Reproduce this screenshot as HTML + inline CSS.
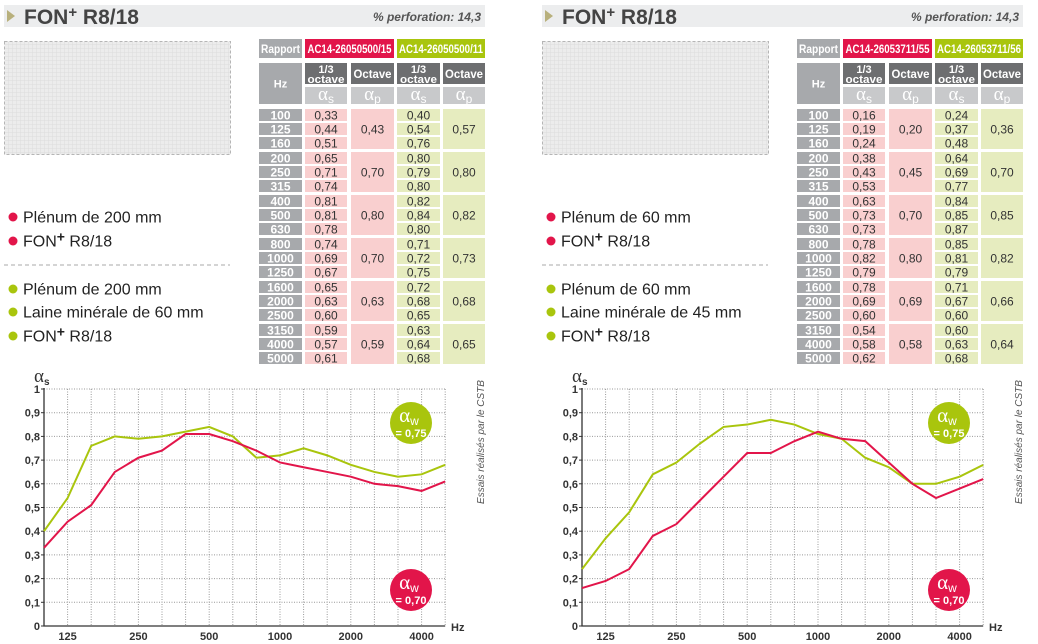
<!DOCTYPE html>
<html><head><meta charset="utf-8">
<style>
html,body{margin:0;padding:0;background:#fff;width:1038px;height:644px;overflow:hidden}
svg{position:absolute;top:0;font-family:"Liberation Sans",sans-serif}
</style></head>
<body>
<svg id="root" width="1038" height="644">
<defs>
<pattern id="hatch" width="4" height="4" patternUnits="userSpaceOnUse">
<rect width="4" height="4" fill="#ececec"/><path d="M0 0H4M0 0V4" stroke="#dcdcdc" stroke-width="1"/>
</pattern>
</defs>
</svg>
<script>
// ---- data ----
const bands = ["100","125","160","200","250","315","400","500","630","800","1000","1250","1600","2000","2500","3150","4000","5000"];
const xTickLabels = ["125","250","500","1000","2000","4000"];
const xTickIdx = [1,4,7,10,13,16];
const yTicks = [0,0.1,0.2,0.3,0.4,0.5,0.6,0.7,0.8,0.9,1];
const yTickLabels = ["0","0,1","0,2","0,3","0,4","0,5","0,6","0,7","0,8","0,9","1"];

const leftRed = [0.33,0.44,0.51,0.65,0.71,0.74,0.81,0.81,0.78,0.74,0.69,0.67,0.65,0.63,0.60,0.59,0.57,0.61];
const leftGreen = [0.40,0.54,0.76,0.80,0.79,0.80,0.82,0.84,0.80,0.71,0.72,0.75,0.72,0.68,0.65,0.63,0.64,0.68];
const leftRedOct = [0.43,0.70,0.80,0.70,0.63,0.59];
const leftGreenOct = [0.57,0.80,0.82,0.73,0.68,0.65];

const rightRed = [0.16,0.19,0.24,0.38,0.43,0.53,0.63,0.73,0.73,0.78,0.82,0.79,0.78,0.69,0.60,0.54,0.58,0.62];
const rightGreen = [0.24,0.37,0.48,0.64,0.69,0.77,0.84,0.85,0.87,0.85,0.81,0.79,0.71,0.67,0.60,0.60,0.63,0.68];
const rightRedOct = [0.20,0.45,0.70,0.80,0.69,0.58];
const rightGreenOct = [0.36,0.70,0.85,0.82,0.66,0.64];

const RED="#e2154a", GREEN="#a9c50d";
const NS="http://www.w3.org/2000/svg";
const root=document.getElementById('root');
function mk(tag,attrs,parent,text){const e=document.createElementNS(NS,tag);for(const k in attrs)e.setAttribute(k,attrs[k]);if(text!==undefined)e.textContent=text;(parent||root).appendChild(e);return e;}
function fmt(v){return v.toFixed(2).replace('.',',');}

// axis functions
const X0=44, XSTEP=23.6, Y0=626, YH=237;
function xs(i){return X0+i*XSTEP;}
function ys(v){return Y0-v*YH;}

function panel(ox, p){
  const g=mk('g',{transform:'translate('+ox+',0)'});
  
  
  // title bar
  let e=mk('rect',{x:4,y:5,width:481,height:22,fill:'#ecedee'},g);
  
  e=mk('polygon',{points:'7,10 15,16 7,22',fill:'#b8b07c'},g);
  
  e=mk('text',{x:24,y:24,'font-size':21,'font-weight':'bold',fill:'#444'},g);
  e.innerHTML='FON<tspan dy="-7" font-size="15">+</tspan><tspan dy="7"> R8/18</tspan>';
  
  e=mk('text',{x:481,y:21,'font-size':12,'font-weight':'bold','font-style':'italic',fill:'#555','text-anchor':'end'},g,'% perforation: 14,3');
  
  // image placeholder
  e=mk('rect',{x:4.5,y:41.5,width:226,height:113,fill:'url(#hatch)',stroke:'#b5b5b5','stroke-dasharray':'3,2'},g);
  
  // legend
  const leg=[[217,RED,p.l1],[241,RED,'FON+'],[289,GREEN,p.l1],[312,GREEN,p.l2],[336,GREEN,'FON+']];
  leg.forEach(function(l){
    const c=mk('circle',{cx:13,cy:l[0],r:4.5,fill:l[1]},g);
    
    const t=mk('text',{x:23,y:l[0]+5.5,'font-size':16,fill:'#222'},g);
    if(l[2]==='FON+') t.innerHTML='FON<tspan dy="-5" font-size="14" font-weight="bold">+</tspan><tspan dy="5"> R8/18</tspan>';
    else t.textContent=l[2];
    
  });
  e=mk('line',{x1:4,y1:265,x2:230,y2:265,stroke:'#aaa','stroke-dasharray':'4,3'},g);
  

  // table
  const cHz=[259,43],cR1=[305,42],cR2=[351,43],cG1=[397,43],cG2=[443,42];
  function cell(x,y,w,h,fill,txt,col,fs,name,bold,fit){
    const r=mk('rect',{x:x,y:y,width:w,height:h,fill:fill},g);
    
    if(txt!==null){const a={x:x+w/2,y:y+h/2+fs*0.36,'font-size':fs,fill:col,'text-anchor':'middle','font-weight':bold?'bold':'normal'};
    if(fit){a.textLength=fit;a.lengthAdjust='spacingAndGlyphs';}
    const t=mk('text',a,g,txt);
    }
  }
  function alphaCell(x,y,w,h,sub,name){
    const r=mk('rect',{x:x,y:y,width:w,height:h,fill:'#c8c9cb'},g);
    
    const t=mk('text',{x:x+w/2,y:y+13,'font-size':19,fill:'#fff','text-anchor':'middle','font-family':'Liberation Serif, serif'},g);
    t.innerHTML='α<tspan font-size="12" dy="3" font-family="Liberation Sans">'+sub+'</tspan>';
    
  }
  cell(259,39,43,19,'#a7a9ac','Rapport','#fff',12,'rapport-header',true,39);
  cell(305,39,89,19,RED,p.refR,'#fff',12,'report-red',true,84);
  cell(397,39,88,19,GREEN,p.refG,'#fff',12,'report-green',true,84);
  cell(259,63,43,41,'#a7a9ac','Hz','#fff',11,'hz-header',true);
  [cR1,cG1].forEach(function(c){
    cell(c[0],63,c[1],21,'#6d6e70',null,'#fff',10,'third-octave-header',true);
    let t=mk('text',{x:c[0]+c[1]/2,y:73,'font-size':11,'font-weight':'bold',fill:'#fff','text-anchor':'middle'},g,'1/3');
    
    t=mk('text',{x:c[0]+c[1]/2,y:83,'font-size':11,'font-weight':'bold',fill:'#fff','text-anchor':'middle',textLength:37,lengthAdjust:'spacingAndGlyphs'},g,'octave');
    
    alphaCell(c[0],87,c[1],17,'s','alpha-s-header');
  });
  [cR2,cG2].forEach(function(c){
    cell(c[0],63,c[1],21,'#6d6e70','Octave','#fff',12,'octave-header',true,38);
    alphaCell(c[0],87,c[1],17,'p','alpha-p-header');
  });
  for(let gi=0;gi<6;gi++){
    const gy=109+gi*43;
    for(let r=0;r<3;r++){
      const i=gi*3+r, y=gy+r*14;
      cell(cHz[0],y,cHz[1],12,'#a7a9ac',bands[i],'#fff',12,'hz-'+bands[i],true);
      cell(cR1[0],y,cR1[1],12,'#f9cfcf',fmt(p.red[i]),'#333',12,'red-third-'+bands[i],false);
      cell(cG1[0],y,cG1[1],12,'#e6ecbf',fmt(p.green[i]),'#333',12,'green-third-'+bands[i],false);
    }
    cell(cR2[0],gy,cR2[1],40,'#f9cfcf',fmt(p.redOct[gi]),'#333',12,'red-octave',false);
    cell(cG2[0],gy,cG2[1],40,'#e6ecbf',fmt(p.greenOct[gi]),'#333',12,'green-octave',false);
  }

  // chart
  const ch=mk('g',{},g);
  
  e=mk('text',{x:34,y:382,'font-size':19,fill:'#333','font-family':'Liberation Serif, serif'},ch);
  e.innerHTML='α<tspan font-size="10" font-weight="bold" dy="3" font-family="Liberation Sans">s</tspan>';
  
  yTicks.forEach(function(v,k){
    if(v>0){const l=mk('line',{x1:X0,y1:ys(v),x2:xs(17),y2:ys(v),stroke:'#999','stroke-dasharray':'1,1.5'},ch);
    }
    const tk=mk('line',{x1:X0-3,y1:ys(v),x2:X0,y2:ys(v),stroke:'#333'},ch);
    
    const t=mk('text',{x:X0-4,y:ys(v)+4,'font-size':11,'font-weight':'bold',fill:'#333','text-anchor':'end'},ch,yTickLabels[k]);
    
  });
  for(let i=1;i<18;i++){
    const l=mk('line',{x1:xs(i),y1:ys(1),x2:xs(i),y2:Y0,stroke:'#999','stroke-dasharray':'1,1.5'},ch);
    
  }
  xTickIdx.forEach(function(i,k){
    const t=mk('text',{x:xs(i),y:640,'font-size':11,'font-weight':'bold',fill:'#333','text-anchor':'middle'},ch,xTickLabels[k]);
    
  });
  e=mk('path',{d:'M'+X0+' '+(ys(1)-1)+'V'+Y0+'H'+xs(17),stroke:'#333','stroke-width':1.3,fill:'none'},ch);
  
  e=mk('text',{x:451,y:631,'font-size':11,'font-weight':'bold',fill:'#333'},ch,'Hz');
  
  e=mk('polyline',{points:p.green.map(function(v,i){return xs(i)+','+ys(v);}).join(' '),fill:'none',stroke:GREEN,'stroke-width':2},ch);
  
  e=mk('polyline',{points:p.red.map(function(v,i){return xs(i)+','+ys(v);}).join(' '),fill:'none',stroke:RED,'stroke-width':2},ch);
  
  [[423,GREEN,'0,75','green-alpha-w-badge'],[590,RED,'0,70','red-alpha-w-badge']].forEach(function(b){
    const c=mk('circle',{cx:411,cy:b[0],r:21,fill:b[1]},ch);
    
    const t=mk('text',{x:409,y:b[0]-1,'font-size':21,fill:'#fff','text-anchor':'middle','font-family':'Liberation Serif, serif'},ch);
    t.innerHTML='α<tspan font-size="12" dy="3" font-family="Liberation Sans">w</tspan>';
    
    const t2=mk('text',{x:411,y:b[0]+14,'font-size':11,'font-weight':'bold',fill:'#fff','text-anchor':'middle'},ch,'= '+b[2]);
    
  });
  e=mk('text',{x:0,y:0,'font-size':10,'font-style':'italic',fill:'#555','text-anchor':'middle',transform:'translate(484,442) rotate(-90)'},ch,'Essais réalisés par le CSTB');
  
}

panel(0,{name:'left-panel',l1:'Plénum de 200 mm',l2:'Laine minérale de 60 mm',refR:'AC14-26050500/15',refG:'AC14-26050500/11',red:leftRed,green:leftGreen,redOct:leftRedOct,greenOct:leftGreenOct});
panel(538,{name:'right-panel',l1:'Plénum de 60 mm',l2:'Laine minérale de 45 mm',refR:'AC14-26053711/55',refG:'AC14-26053711/56',red:rightRed,green:rightGreen,redOct:rightRedOct,greenOct:rightGreenOct});
</script>
</body></html>
